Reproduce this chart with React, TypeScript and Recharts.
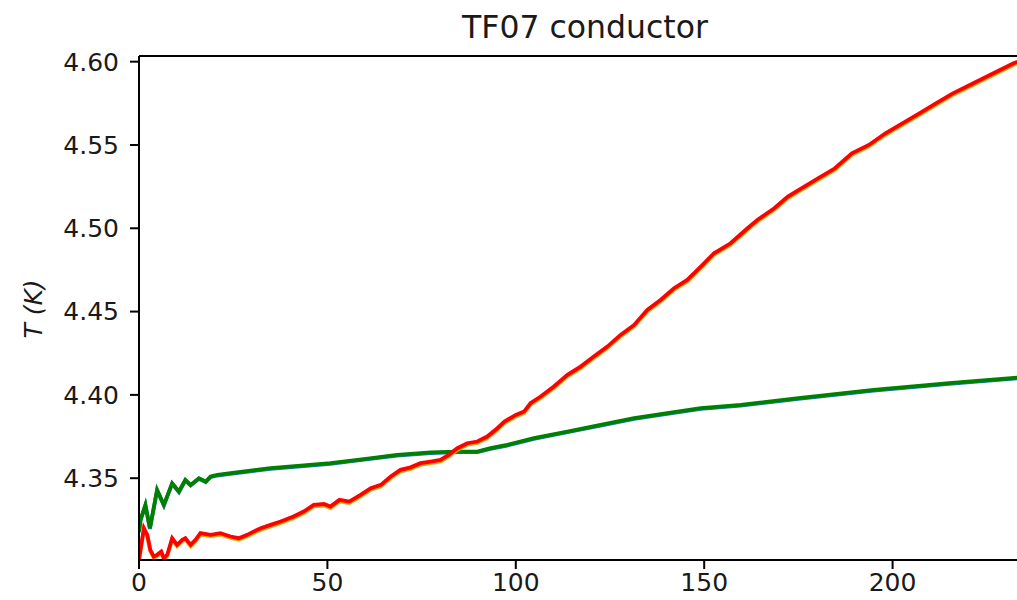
import React from "react";
import { LineChart, Line, XAxis, YAxis, ReferenceLine } from "recharts";

// time axis (s) and conductor temperature (K) per trace
const redX = [
  0, 1.3, 2.2, 3.0, 3.9, 4.8, 5.9, 6.6, 7.5, 8.8, 10.1, 11.5, 12.3, 13.7, 15.0, 16.3, 19.0, 21.6,
  24.3, 26.5, 28.7, 32.3, 34.9, 37.6, 41.0, 43.7, 46.4, 49.1, 50.8, 53.2, 55.8, 58.8, 61.5, 64.2,
  66.8, 69.4, 72.1, 74.7, 77.4, 80.0, 82.2, 84.5, 87.1, 89.8, 92.4, 95.1, 97.0, 100.0, 102.2, 103.9,
  106.6, 110.1, 113.7, 117.2, 120.7, 124.3, 127.8, 131.4, 134.9, 138.4, 142.0, 145.5, 149.1, 152.6,
  157.0, 161.5, 164.1, 168.6, 172.2, 175.8, 180.2, 184.7, 189.2, 193.7, 198.1, 202.6, 207.1, 211.5,
  216.0, 220.5, 224.1, 228.5, 232.1, 237.0,
];
const redT = [
  4.301, 4.32, 4.316, 4.307, 4.303, 4.304, 4.306, 4.302, 4.304, 4.314, 4.31, 4.313, 4.314, 4.31,
  4.313, 4.317, 4.316, 4.317, 4.315, 4.314, 4.316, 4.32, 4.322, 4.324, 4.327, 4.33, 4.334, 4.3345,
  4.333, 4.337, 4.336, 4.34, 4.344, 4.346, 4.351, 4.355, 4.3565, 4.359, 4.36, 4.361, 4.364, 4.368,
  4.371, 4.372, 4.375, 4.38, 4.384, 4.388, 4.39, 4.395, 4.399, 4.405, 4.412, 4.417, 4.423, 4.429,
  4.436, 4.442, 4.451, 4.457, 4.464, 4.469, 4.477, 4.485, 4.491, 4.5, 4.505, 4.512, 4.519, 4.524,
  4.53, 4.536, 4.545, 4.55, 4.557, 4.563, 4.569, 4.575, 4.581, 4.586, 4.59, 4.595, 4.599, 4.6034,
];
// orange trace shares the red sampling times
const orangeT = [
  4.3009, 4.3192, 4.3152, 4.3063, 4.3022, 4.3032, 4.3052, 4.3012, 4.3032, 4.3132, 4.3092, 4.3122,
  4.3132, 4.3092, 4.3122, 4.3162, 4.3152, 4.3162, 4.3142, 4.3132, 4.3152, 4.3191, 4.3211, 4.3231,
  4.3261, 4.3291, 4.3331, 4.3336, 4.3321, 4.3361, 4.3351, 4.3391, 4.3431, 4.3451, 4.3501, 4.3541,
  4.3556, 4.3581, 4.3591, 4.3601, 4.3631, 4.3671, 4.3701, 4.3711, 4.3741, 4.3791, 4.3831, 4.3871,
  4.3891, 4.3941, 4.3981, 4.4041, 4.4111, 4.4161, 4.4221, 4.4281, 4.4351, 4.4411, 4.4501, 4.4561,
  4.4631, 4.4681, 4.4761, 4.4841, 4.4901, 4.4991, 4.5041, 4.5111, 4.5181, 4.5231, 4.5291, 4.5351,
  4.5441, 4.5491, 4.5561, 4.5621, 4.5681, 4.5741, 4.5801, 4.5851, 4.5891, 4.5941, 4.5981, 4.6024,
];

const greenX = [
  0, 0.4, 1.7, 2.9, 4.8, 6.6, 8.8, 10.6, 12.3, 13.7, 15.9, 17.7, 19.0, 20.8, 24.3, 29.6, 34.9, 42.9,
  50.8, 59.7, 68.5, 77.4, 84.5, 89.8, 93.3, 97.7, 104.8, 113.7, 122.5, 131.4, 140.2, 149.1, 159.7,
  175.0, 195.0, 215.0, 237.0,
];
const greenT = [
  4.318, 4.325, 4.334, 4.32, 4.343, 4.334, 4.347, 4.342, 4.349, 4.346, 4.35, 4.348, 4.351, 4.352,
  4.353, 4.3545, 4.356, 4.3575, 4.359, 4.3615, 4.364, 4.3655, 4.366, 4.366, 4.368, 4.37, 4.374,
  4.378, 4.382, 4.386, 4.389, 4.392, 4.394, 4.398, 4.403, 4.407, 4.411,
];
// blue trace shares the green sampling times
const blueT = [
  4.3176, 4.3246, 4.3336, 4.3196, 4.3426, 4.3336, 4.3466, 4.3416, 4.3486, 4.3456, 4.3496, 4.3476,
  4.3506, 4.3516, 4.3526, 4.3541, 4.3556, 4.3571, 4.3586, 4.3611, 4.3636, 4.3651, 4.3656, 4.3656,
  4.3676, 4.3696, 4.3736, 4.3776, 4.3816, 4.3856, 4.3886, 4.3916, 4.3936, 4.3976, 4.4026, 4.4066,
  4.4106,
];

const xTicks = [0, 50, 100, 150, 200];
const yTicks = [4.35, 4.4, 4.45, 4.5, 4.55, 4.6];
const X_MAX = 237;
const Y_MIN = 4.3009;
const Y_MAX = 4.6034;

const toPoints = (xs: number[], ts: number[]) => xs.map((t, i) => ({ t, T: ts[i] }));

const FONT = "'DejaVu Sans', sans-serif";
const INK = "#1a1a1a";
const tickStyle = { fill: INK, fontSize: 25, fontFamily: FONT };

export default function App() {
  return (
    <div
      style={{
        position: "absolute",
        left: 0,
        top: 0,
        width: 1017,
        height: 600,
        overflow: "hidden",
        background: "#fff",
      }}
    >
      <LineChart width={1032} height={600} margin={{ top: 56, right: 0, bottom: 0, left: 0 }}>
        <XAxis
          type="number"
          dataKey="t"
          domain={[0, X_MAX]}
          ticks={xTicks}
          allowDataOverflow
          height={40}
          tick={tickStyle}
          tickSize={9}
          tickMargin={4}
          axisLine={{ stroke: "#000", strokeWidth: 2 }}
          tickLine={{ stroke: "#000", strokeWidth: 2 }}
        />
        <YAxis
          type="number"
          dataKey="T"
          domain={[Y_MIN, Y_MAX]}
          ticks={yTicks}
          allowDataOverflow
          width={139}
          tick={tickStyle}
          tickFormatter={(v: number) => v.toFixed(2)}
          tickSize={9}
          tickMargin={11}
          axisLine={{ stroke: "#000", strokeWidth: 2 }}
          tickLine={{ stroke: "#000", strokeWidth: 2 }}
        />
        <ReferenceLine y={Y_MAX} stroke="#000" strokeWidth={2} />
        <Line data={toPoints(greenX, blueT)} dataKey="T" stroke="#1f77b4" strokeWidth={3.8} dot={false} isAnimationActive={false} />
        <Line data={toPoints(greenX, greenT)} dataKey="T" stroke="#008000" strokeWidth={3.8} dot={false} isAnimationActive={false} />
        <Line data={toPoints(redX, orangeT)} dataKey="T" stroke="#ffa500" strokeWidth={3.8} dot={false} isAnimationActive={false} />
        <Line data={toPoints(redX, redT)} dataKey="T" stroke="#ff0000" strokeWidth={3.8} dot={false} isAnimationActive={false} />
      </LineChart>
      <svg width={1017} height={600} style={{ position: "absolute", left: 0, top: 0, pointerEvents: "none" }}>
        <text x={585} y={38} textAnchor="middle" fontSize={31.5} fontFamily={FONT} fill={INK}>
          TF07 conductor
        </text>
        <text
          x={0}
          y={0}
          transform="translate(42 309) rotate(-90)"
          textAnchor="middle"
          fontSize={25}
          fontFamily={FONT}
          fontStyle="italic"
          fill={INK}
        >
          T (K)
        </text>
      </svg>
    </div>
  );
}
